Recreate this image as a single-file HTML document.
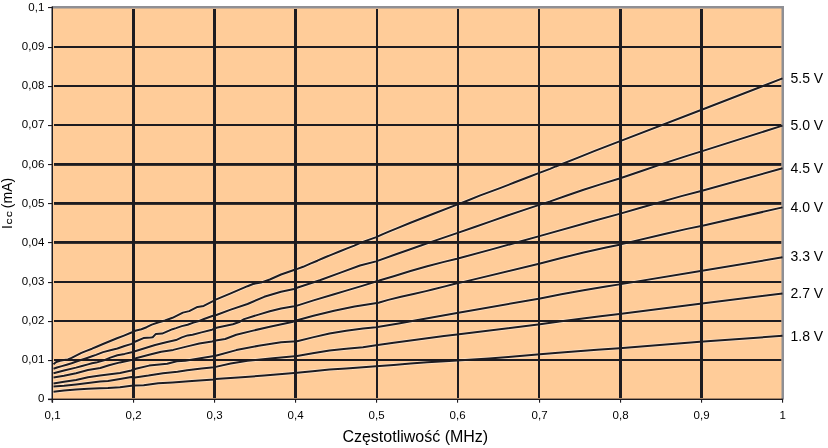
<!DOCTYPE html>
<html><head><meta charset="utf-8"><style>
html,body{margin:0;padding:0;background:#fff;}
body{width:828px;height:448px;overflow:hidden;}
svg{display:block;}
text{font-family:"Liberation Sans",Arial,sans-serif;fill:#000;}
.t11{font-size:11.5px;letter-spacing:0.1px;}
.t14{font-size:14px;}
.t16{font-size:16px;}
.t7{font-size:7.8px;stroke:#000;stroke-width:0.25px;}
</style></head><body>
<svg width="828" height="448" viewBox="0 0 828 448">
<defs><clipPath id="pc"><rect x="53" y="8.5" width="728.5" height="390"/></clipPath></defs>
<rect width="828" height="448" fill="#fff"/>
<rect x="52" y="7" width="730" height="392" fill="#FFCC99"/>
<g clip-path="url(#pc)">
<path d="M53.5,364.2 L55,362.9 L57,361.7 L60,360.7 L64,360.1 L68,359.4 L71.6,357.9 L76.5,355.4 L81.4,352.9 L86.4,350.9 L92,348.7 L96,347 L103,344 L110.3,341 L117,338.3 L124,335.6 L132.1,332.3 L135.2,330.8 L141.4,329.2 L146.6,327.2 L151.8,324.6 L158,322.5 L165,320.5 L172.5,317.8 L182.9,312.6 L189.2,311.1 L197.5,306.9 L203.7,305.9 L213,301.2 L215.7,299.6 L230.7,293.4 L247.5,286.2 L253,284 L260.9,282.6 L269.8,279.5 L281,274.5 L294,270 L297.4,268.9 L303.1,266.8 L310.3,263.6 L317.4,260.7 L324.6,257.5 L331.7,254.6 L340,251.3 L347.1,248.4 L354.3,245.6 L361.5,242.4 L368.6,239.9 L375.7,237.4 L382.9,234.08 L390,231.15 L397.4,228.11 L410.5,222.77 L432.8,213.98 L457,204.68 L464.7,201.71 L480.3,195.4 L500,188.12 L514.3,182.54 L528.6,176.99 L538,173.42 L550,168.84 L555.7,166.45 L578.1,157.67 L594.8,150.9 L619.5,141.34 L703,109.29 L782.5,78.43" fill="none" stroke="#fff6ee" stroke-opacity="0.6" stroke-width="3.4" stroke-linejoin="round"/>
<path d="M53.5,368.8 L57,367.5 L61.8,366.1 L66.7,364.7 L71.6,363.2 L76.5,361.5 L81,360 L86.4,358.2 L92,356.3 L96,354.9 L103.1,352.1 L110.3,350.3 L117.4,348.5 L124.6,346 L131.7,343.9 L135.5,341.5 L143.5,338.1 L150.7,337.5 L152.7,337.2 L155.9,333.9 L162.2,333.6 L172.5,329.2 L176,328.1 L181.8,326.1 L187.6,324.7 L193.4,322.6 L198.1,321.4 L204,319 L213,315.7 L215.7,315.2 L230.7,309.6 L247.5,304 L264.2,296.8 L281,291.8 L294,289 L297,287.8 L319.8,280.2 L339.9,272.9 L360,265.5 L376.1,261.4 L397.4,253.74 L408.2,250.01 L420.9,245.55 L432.8,241.38 L457,233.08 L474.7,227.04 L491.5,221.15 L508.2,215.31 L525,209.63 L538.5,205.08 L550.2,201.33 L566.9,195.51 L583.6,189.74 L600.4,184.36 L619.5,178.46 L642.3,170.75 L664.6,163.08 L687,155.83 L703,150.87 L782.5,125.62" fill="none" stroke="#fff6ee" stroke-opacity="0.6" stroke-width="3.4" stroke-linejoin="round"/>
<path d="M53.5,373.2 L64,370.5 L76,367.6 L82,366 L88,364.4 L92,363.3 L96,362.6 L105,360 L110.3,357.6 L117.4,355.3 L124.6,353.9 L131.7,352.2 L135.8,351 L155.1,345 L167.2,342 L176,340.1 L181.8,337.4 L187.6,335.4 L192.5,334.7 L201.5,332.4 L212,329.7 L216.4,327.8 L232.9,324.3 L239.9,321.7 L244.1,319.1 L258.6,314.6 L269.8,311.3 L281,308.5 L294,306.3 L297.1,305.6 L313.5,300.4 L334.1,294.3 L346.2,290.6 L363,285.6 L376,281.45 L379.2,280.56 L393.7,276.17 L410.5,271.02 L427.2,266.27 L444,261.89 L457,258.75 L492.6,249.12 L538.5,236.38 L591.5,221.51 L619.5,213.87 L642.3,207.26 L681.4,196.1 L703,190.41 L782.5,168.32" fill="none" stroke="#fff6ee" stroke-opacity="0.6" stroke-width="3.4" stroke-linejoin="round"/>
<path d="M53.5,377.6 L64,375.7 L76,373.2 L88,370 L100.3,368 L109,365.3 L120,362.4 L128,360.8 L131.7,360.1 L135.8,358.3 L149.1,354.7 L161.2,351.7 L173.2,349.9 L185.3,346.9 L190.5,345.6 L199.3,343.5 L212,341.5 L215.7,340.6 L225.2,339 L236.3,334.8 L253.1,330.6 L269.8,326.7 L292.1,322 L297.1,320.2 L313.5,315.8 L334.1,310.7 L354.6,306.6 L378.5,302.76 L388.3,299.87 L401,296.81 L413.5,293.92 L426,291.11 L432.5,289.58 L445,286.4 L455,283.83 L463.75,281.88 L540.1,263.47 L561.3,258.06 L583.6,252.47 L606,247.51 L619.5,244.65 L664.6,233.98 L687,228.89 L703.6,225.41 L782.5,207.4" fill="none" stroke="#fff6ee" stroke-opacity="0.6" stroke-width="3.4" stroke-linejoin="round"/>
<path d="M53.5,383.4 L64,381.7 L76,379.9 L88,377.3 L100,375.5 L108,374.5 L120,372.9 L131.3,370.5 L135.8,368.7 L149.1,365.6 L167.2,363.7 L176.8,361.3 L185.3,360.7 L203.4,357.7 L215.7,355.7 L236.3,350.1 L258.6,345.7 L281,342.3 L297.1,341.3 L312.7,337.4 L329.5,333.5 L346.2,330.7 L363,328.5 L376,327.28 L398.6,323.39 L415,320.6 L457,312.97 L540.1,298.4 L561.3,294.25 L583.6,290.17 L606,286.48 L619.5,284.38 L703.6,270.56 L782.5,257.33" fill="none" stroke="#fff6ee" stroke-opacity="0.6" stroke-width="3.4" stroke-linejoin="round"/>
<path d="M53.5,386.6 L64,385.7 L76,384.4 L88,382.9 L100,381.6 L108,380.9 L120,378.9 L131.3,376.9 L135,377.4 L148.5,375.6 L163,373.2 L177.5,371.7 L187.1,370.3 L201.6,368.4 L214,367.3 L215.7,366.9 L230.7,363.5 L247.5,360.7 L255.5,360 L272.9,358.2 L297.1,356.1 L312.7,353.3 L329.5,350.5 L346.2,348.8 L363,347.2 L376,345.3 L393.7,342.86 L410.5,340.54 L427.2,338.26 L444,336.09 L457,334.61 L540.1,324.2 L561.3,321.29 L600.4,316.32 L619.5,313.95 L700,303.82 L782.5,293.55" fill="none" stroke="#fff6ee" stroke-opacity="0.6" stroke-width="3.4" stroke-linejoin="round"/>
<path d="M53.5,391.8 L64,390.5 L76,389.5 L88,388.7 L100,388.3 L108,388.1 L120,387.3 L131.3,385.7 L135,385.6 L143.7,385.2 L158.2,383.3 L172.6,382.4 L192,380.9 L214,379.5 L215.3,378.9 L238.1,377.4 L264.2,375.6 L297.1,372.8 L312.7,371.2 L329.5,369.5 L346.2,368.4 L363,367.3 L376,366.22 L393.7,365.0 L410.5,363.62 L427.2,362.34 L445,361.25 L457.1,360.57 L489,358.38 L508.3,357.1 L540,354.37 L558.3,352.82 L577.6,351.21 L597,349.73 L619.5,348.13 L700,341.87 L782.5,335.82" fill="none" stroke="#fff6ee" stroke-opacity="0.6" stroke-width="3.4" stroke-linejoin="round"/>
</g>
<rect x="54" y="46" width="727.5" height="2" fill="#1d1b20"/>
<rect x="54" y="85" width="727.5" height="2" fill="#1d1b20"/>
<rect x="54" y="124" width="727.5" height="2" fill="#1d1b20"/>
<rect x="54" y="163" width="727.5" height="2.85" fill="#1d1b20"/>
<rect x="54" y="202" width="727.5" height="2.85" fill="#1d1b20"/>
<rect x="54" y="241" width="727.5" height="2.85" fill="#1d1b20"/>
<rect x="54" y="281" width="727.5" height="2" fill="#1d1b20"/>
<rect x="54" y="320" width="727.5" height="2" fill="#1d1b20"/>
<rect x="54" y="359" width="727.5" height="2" fill="#1d1b20"/>
<rect x="132" y="9" width="3" height="389" fill="#1d1b20"/>
<rect x="213" y="9" width="3" height="389" fill="#1d1b20"/>
<rect x="294" y="9" width="3" height="389" fill="#1d1b20"/>
<rect x="376" y="9" width="2" height="389" fill="#1d1b20"/>
<rect x="457" y="9" width="2" height="389" fill="#1d1b20"/>
<rect x="538" y="9" width="2" height="389" fill="#1d1b20"/>
<rect x="619" y="9" width="3" height="389" fill="#1d1b20"/>
<rect x="700" y="9" width="3" height="389" fill="#1d1b20"/>
<rect x="52" y="6" width="732" height="2.5" fill="#8f8f94"/>
<rect x="781.5" y="6" width="2.5" height="393.5" fill="#8f8f94"/>
<rect x="51.5" y="6.5" width="1.5" height="396" fill="#1d1b20"/>
<rect x="48" y="398.6" width="735" height="1.4" fill="#1d1b20"/>
<rect x="48" y="7" width="4" height="1.1" fill="#1d1b20"/>
<rect x="48" y="47" width="4" height="1.1" fill="#1d1b20"/>
<rect x="48" y="86" width="4" height="1.1" fill="#1d1b20"/>
<rect x="48" y="125" width="4" height="1.1" fill="#1d1b20"/>
<rect x="48" y="164" width="4" height="1.1" fill="#1d1b20"/>
<rect x="48" y="203" width="4" height="1.1" fill="#1d1b20"/>
<rect x="48" y="242" width="4" height="1.1" fill="#1d1b20"/>
<rect x="48" y="282" width="4" height="1.1" fill="#1d1b20"/>
<rect x="48" y="321" width="4" height="1.1" fill="#1d1b20"/>
<rect x="48" y="360" width="4" height="1.1" fill="#1d1b20"/>
<rect x="48" y="399" width="4" height="1.1" fill="#1d1b20"/>
<rect x="52" y="399" width="1.1" height="3.7" fill="#1d1b20"/>
<rect x="133" y="399" width="1.1" height="3.7" fill="#1d1b20"/>
<rect x="214" y="399" width="1.1" height="3.7" fill="#1d1b20"/>
<rect x="295" y="399" width="1.1" height="3.7" fill="#1d1b20"/>
<rect x="376" y="399" width="1.1" height="3.7" fill="#1d1b20"/>
<rect x="457" y="399" width="1.1" height="3.7" fill="#1d1b20"/>
<rect x="539" y="399" width="1.1" height="3.7" fill="#1d1b20"/>
<rect x="620" y="399" width="1.1" height="3.7" fill="#1d1b20"/>
<rect x="701" y="399" width="1.1" height="3.7" fill="#1d1b20"/>
<rect x="782" y="399" width="1.1" height="3.7" fill="#1d1b20"/>
<path d="M53.5,364.2 L55,362.9 L57,361.7 L60,360.7 L64,360.1 L68,359.4 L71.6,357.9 L76.5,355.4 L81.4,352.9 L86.4,350.9 L92,348.7 L96,347 L103,344 L110.3,341 L117,338.3 L124,335.6 L132.1,332.3 L135.2,330.8 L141.4,329.2 L146.6,327.2 L151.8,324.6 L158,322.5 L165,320.5 L172.5,317.8 L182.9,312.6 L189.2,311.1 L197.5,306.9 L203.7,305.9 L213,301.2 L215.7,299.6 L230.7,293.4 L247.5,286.2 L253,284 L260.9,282.6 L269.8,279.5 L281,274.5 L294,270 L297.4,268.9 L303.1,266.8 L310.3,263.6 L317.4,260.7 L324.6,257.5 L331.7,254.6 L340,251.3 L347.1,248.4 L354.3,245.6 L361.5,242.4 L368.6,239.9 L375.7,237.4 L382.9,234.08 L390,231.15 L397.4,228.11 L410.5,222.77 L432.8,213.98 L457,204.68 L464.7,201.71 L480.3,195.4 L500,188.12 L514.3,182.54 L528.6,176.99 L538,173.42 L550,168.84 L555.7,166.45 L578.1,157.67 L594.8,150.9 L619.5,141.34 L703,109.29 L782.5,78.43" fill="none" stroke="#1d1b20" stroke-width="2.0" stroke-linejoin="round"/>
<path d="M53.5,368.8 L57,367.5 L61.8,366.1 L66.7,364.7 L71.6,363.2 L76.5,361.5 L81,360 L86.4,358.2 L92,356.3 L96,354.9 L103.1,352.1 L110.3,350.3 L117.4,348.5 L124.6,346 L131.7,343.9 L135.5,341.5 L143.5,338.1 L150.7,337.5 L152.7,337.2 L155.9,333.9 L162.2,333.6 L172.5,329.2 L176,328.1 L181.8,326.1 L187.6,324.7 L193.4,322.6 L198.1,321.4 L204,319 L213,315.7 L215.7,315.2 L230.7,309.6 L247.5,304 L264.2,296.8 L281,291.8 L294,289 L297,287.8 L319.8,280.2 L339.9,272.9 L360,265.5 L376.1,261.4 L397.4,253.74 L408.2,250.01 L420.9,245.55 L432.8,241.38 L457,233.08 L474.7,227.04 L491.5,221.15 L508.2,215.31 L525,209.63 L538.5,205.08 L550.2,201.33 L566.9,195.51 L583.6,189.74 L600.4,184.36 L619.5,178.46 L642.3,170.75 L664.6,163.08 L687,155.83 L703,150.87 L782.5,125.62" fill="none" stroke="#1d1b20" stroke-width="2.0" stroke-linejoin="round"/>
<path d="M53.5,373.2 L64,370.5 L76,367.6 L82,366 L88,364.4 L92,363.3 L96,362.6 L105,360 L110.3,357.6 L117.4,355.3 L124.6,353.9 L131.7,352.2 L135.8,351 L155.1,345 L167.2,342 L176,340.1 L181.8,337.4 L187.6,335.4 L192.5,334.7 L201.5,332.4 L212,329.7 L216.4,327.8 L232.9,324.3 L239.9,321.7 L244.1,319.1 L258.6,314.6 L269.8,311.3 L281,308.5 L294,306.3 L297.1,305.6 L313.5,300.4 L334.1,294.3 L346.2,290.6 L363,285.6 L376,281.45 L379.2,280.56 L393.7,276.17 L410.5,271.02 L427.2,266.27 L444,261.89 L457,258.75 L492.6,249.12 L538.5,236.38 L591.5,221.51 L619.5,213.87 L642.3,207.26 L681.4,196.1 L703,190.41 L782.5,168.32" fill="none" stroke="#1d1b20" stroke-width="2.0" stroke-linejoin="round"/>
<path d="M53.5,377.6 L64,375.7 L76,373.2 L88,370 L100.3,368 L109,365.3 L120,362.4 L128,360.8 L131.7,360.1 L135.8,358.3 L149.1,354.7 L161.2,351.7 L173.2,349.9 L185.3,346.9 L190.5,345.6 L199.3,343.5 L212,341.5 L215.7,340.6 L225.2,339 L236.3,334.8 L253.1,330.6 L269.8,326.7 L292.1,322 L297.1,320.2 L313.5,315.8 L334.1,310.7 L354.6,306.6 L378.5,302.76 L388.3,299.87 L401,296.81 L413.5,293.92 L426,291.11 L432.5,289.58 L445,286.4 L455,283.83 L463.75,281.88 L540.1,263.47 L561.3,258.06 L583.6,252.47 L606,247.51 L619.5,244.65 L664.6,233.98 L687,228.89 L703.6,225.41 L782.5,207.4" fill="none" stroke="#1d1b20" stroke-width="2.0" stroke-linejoin="round"/>
<path d="M53.5,383.4 L64,381.7 L76,379.9 L88,377.3 L100,375.5 L108,374.5 L120,372.9 L131.3,370.5 L135.8,368.7 L149.1,365.6 L167.2,363.7 L176.8,361.3 L185.3,360.7 L203.4,357.7 L215.7,355.7 L236.3,350.1 L258.6,345.7 L281,342.3 L297.1,341.3 L312.7,337.4 L329.5,333.5 L346.2,330.7 L363,328.5 L376,327.28 L398.6,323.39 L415,320.6 L457,312.97 L540.1,298.4 L561.3,294.25 L583.6,290.17 L606,286.48 L619.5,284.38 L703.6,270.56 L782.5,257.33" fill="none" stroke="#1d1b20" stroke-width="2.0" stroke-linejoin="round"/>
<path d="M53.5,386.6 L64,385.7 L76,384.4 L88,382.9 L100,381.6 L108,380.9 L120,378.9 L131.3,376.9 L135,377.4 L148.5,375.6 L163,373.2 L177.5,371.7 L187.1,370.3 L201.6,368.4 L214,367.3 L215.7,366.9 L230.7,363.5 L247.5,360.7 L255.5,360 L272.9,358.2 L297.1,356.1 L312.7,353.3 L329.5,350.5 L346.2,348.8 L363,347.2 L376,345.3 L393.7,342.86 L410.5,340.54 L427.2,338.26 L444,336.09 L457,334.61 L540.1,324.2 L561.3,321.29 L600.4,316.32 L619.5,313.95 L700,303.82 L782.5,293.55" fill="none" stroke="#1d1b20" stroke-width="2.0" stroke-linejoin="round"/>
<path d="M53.5,391.8 L64,390.5 L76,389.5 L88,388.7 L100,388.3 L108,388.1 L120,387.3 L131.3,385.7 L135,385.6 L143.7,385.2 L158.2,383.3 L172.6,382.4 L192,380.9 L214,379.5 L215.3,378.9 L238.1,377.4 L264.2,375.6 L297.1,372.8 L312.7,371.2 L329.5,369.5 L346.2,368.4 L363,367.3 L376,366.22 L393.7,365.0 L410.5,363.62 L427.2,362.34 L445,361.25 L457.1,360.57 L489,358.38 L508.3,357.1 L540,354.37 L558.3,352.82 L577.6,351.21 L597,349.73 L619.5,348.13 L700,341.87 L782.5,335.82" fill="none" stroke="#1d1b20" stroke-width="2.0" stroke-linejoin="round"/>
<text x="44.5" y="10.9" text-anchor="end" class="t11">0,1</text>
<text x="44.5" y="49.9" text-anchor="end" class="t11">0,09</text>
<text x="44.5" y="89.0" text-anchor="end" class="t11">0,08</text>
<text x="44.5" y="128.0" text-anchor="end" class="t11">0,07</text>
<text x="44.5" y="167.9" text-anchor="end" class="t11">0,06</text>
<text x="44.5" y="206.9" text-anchor="end" class="t11">0,05</text>
<text x="44.5" y="245.9" text-anchor="end" class="t11">0,04</text>
<text x="44.5" y="284.9" text-anchor="end" class="t11">0,03</text>
<text x="44.5" y="324.0" text-anchor="end" class="t11">0,02</text>
<text x="44.5" y="363.0" text-anchor="end" class="t11">0,01</text>
<text x="44.5" y="402.0" text-anchor="end" class="t11">0</text>
<text x="52.7" y="419" text-anchor="middle" class="t11">0,1</text>
<text x="133.7" y="419" text-anchor="middle" class="t11">0,2</text>
<text x="214.7" y="419" text-anchor="middle" class="t11">0,3</text>
<text x="295.7" y="419" text-anchor="middle" class="t11">0,4</text>
<text x="376.7" y="419" text-anchor="middle" class="t11">0,5</text>
<text x="457.7" y="419" text-anchor="middle" class="t11">0,6</text>
<text x="539.7" y="419" text-anchor="middle" class="t11">0,7</text>
<text x="620.7" y="419" text-anchor="middle" class="t11">0,8</text>
<text x="701.7" y="419" text-anchor="middle" class="t11">0,9</text>
<text x="782.7" y="419" text-anchor="middle" class="t11">1</text>
<text x="790.5" y="82.9" class="t14">5.5 V</text>
<text x="790.5" y="129.7" class="t14">5.0 V</text>
<text x="790.5" y="172.9" class="t14">4.5 V</text>
<text x="790.5" y="211.8" class="t14">4.0 V</text>
<text x="790.5" y="260.9" class="t14">3.3 V</text>
<text x="790.5" y="297.8" class="t14">2.7 V</text>
<text x="790.5" y="340.9" class="t14">1.8 V</text>
<text x="415.3" y="441.6" text-anchor="middle" class="t16">Częstotliwość (MHz)</text>
<g transform="translate(12.1,0) rotate(-90)"><text x="-229.1" y="0" class="t14">I</text><text x="-224.3" y="0.2" class="t7">C</text><text x="-217.0" y="0.2" class="t7">C</text><text x="-208.2" y="0" class="t14">(mA)</text></g>
</svg>
</body></html>
